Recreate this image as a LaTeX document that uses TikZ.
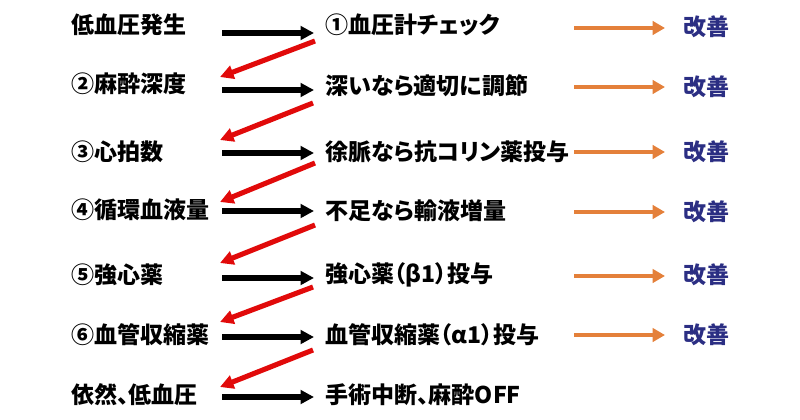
\documentclass[tikz,border=0pt]{standalone}
\usepackage{fontspec}
\setmainfont{Noto Sans CJK JP}[RawFeature=+palt]
\usetikzlibrary{arrows.meta}
\definecolor{arrred}{RGB}{225,10,10}
\definecolor{arrorange}{RGB}{228,128,58}
\definecolor{okblue}{RGB}{43,46,131}

\begin{document}
\begin{tikzpicture}[x=0.02cm, y=0.02cm,
	every node/.style={inner sep=0pt, anchor=west, font=\fontsize{13.1}{16}\selectfont\bfseries},
	blk/.style={black, line width=2.9pt, -{Triangle[length=0.27cm,width=0.27cm]}},
	back/.style={arrred, line width=2.9pt, -{Triangle[length=0.27cm,width=0.27cm]}},
	good/.style={arrorange, line width=2.6pt, -{Triangle[length=0.25cm,width=0.27cm]}}]
	\useasboundingbox (0,0) rectangle (800,-419);
	% left column
	\node (l1) at (71,-25) {低血圧発生};
	\node (l2) at (71,-84) {②麻酔深度};
	\node (l3) at (71,-152) {③心拍数};
	\node (l4) at (71,-210) {④循環血液量};
	\node (l5) at (71,-275) {⑤強心薬};
	\node (l6) at (71,-335) {⑥血管収縮薬};
	\node (l7) at (71,-395) {依然、低血圧};
	% middle column
	\node (m1) at (325,-25) {①血圧計チェック};
	\node (m2) at (325,-86) {深いなら適切に調節};
	\node (m3) at (325,-152) {徐脈なら抗コリン薬投与};
	\node (m4) at (325,-211) {不足なら輸液増量};
	\node (m5) at (325,-275) {強心薬（β1）投与};
	\node (m6) at (325,-335) {血管収縮薬（α1）投与};
	\node (m7) at (325,-395) {手術中断、麻酔OFF};
	% results
	\node[text=okblue] (k1) at (683,-27) {改善};
	\node[text=okblue] (k2) at (683,-87) {改善};
	\node[text=okblue] (k3) at (683,-152) {改善};
	\node[text=okblue] (k4) at (683,-212) {改善};
	\node[text=okblue] (k5) at (683,-275) {改善};
	\node[text=okblue] (k6) at (683,-335) {改善};
	% arrow ends
	\coordinate (a1) at (222,-33);  \coordinate (b1) at (314,-33);
	\coordinate (a2) at (222,-90);  \coordinate (b2) at (314,-90);
	\coordinate (a3) at (222,-153); \coordinate (b3) at (314,-153);
	\coordinate (a4) at (222,-211); \coordinate (b4) at (314,-211);
	\coordinate (a5) at (222,-278); \coordinate (b5) at (314,-278);
	\coordinate (a6) at (222,-337); \coordinate (b6) at (314,-337);
	\coordinate (a7) at (222,-397); \coordinate (b7) at (314,-397);
	\coordinate (r1) at (315,-41);  \coordinate (s1) at (220,-77);
	\coordinate (r2) at (313,-103); \coordinate (s2) at (220,-140);
	\coordinate (r3) at (315,-163); \coordinate (s3) at (220,-202);
	\coordinate (r4) at (315,-225); \coordinate (s4) at (220,-263);
	\coordinate (r5) at (313,-287); \coordinate (s5) at (220,-322);
	\coordinate (r6) at (313,-350); \coordinate (s6) at (220,-387);
	\coordinate (o1) at (574,-28);  \coordinate (p1) at (665,-28);
	\coordinate (o2) at (574,-87);  \coordinate (p2) at (665,-87);
	\coordinate (o3) at (574,-152); \coordinate (p3) at (665,-152);
	\coordinate (o4) at (574,-212); \coordinate (p4) at (665,-212);
	\coordinate (o5) at (574,-276); \coordinate (p5) at (665,-276);
	\coordinate (o6) at (574,-335); \coordinate (p6) at (665,-335);
	% forward
	\draw [blk] (a1) -- (b1);
	\draw [blk] (a2) -- (b2);
	\draw [blk] (a3) -- (b3);
	\draw [blk] (a4) -- (b4);
	\draw [blk] (a5) -- (b5);
	\draw [blk] (a6) -- (b6);
	\draw [blk] (a7) -- (b7);
	% back to next step
	\draw [back] (r1) -- (s1);
	\draw [back] (r2) -- (s2);
	\draw [back] (r3) -- (s3);
	\draw [back] (r4) -- (s4);
	\draw [back] (r5) -- (s5);
	\draw [back] (r6) -- (s6);
	% improvement
	\draw [good] (o1) -- (p1);
	\draw [good] (o2) -- (p2);
	\draw [good] (o3) -- (p3);
	\draw [good] (o4) -- (p4);
	\draw [good] (o5) -- (p5);
	\draw [good] (o6) -- (p6);
\end{tikzpicture}
\end{document}
